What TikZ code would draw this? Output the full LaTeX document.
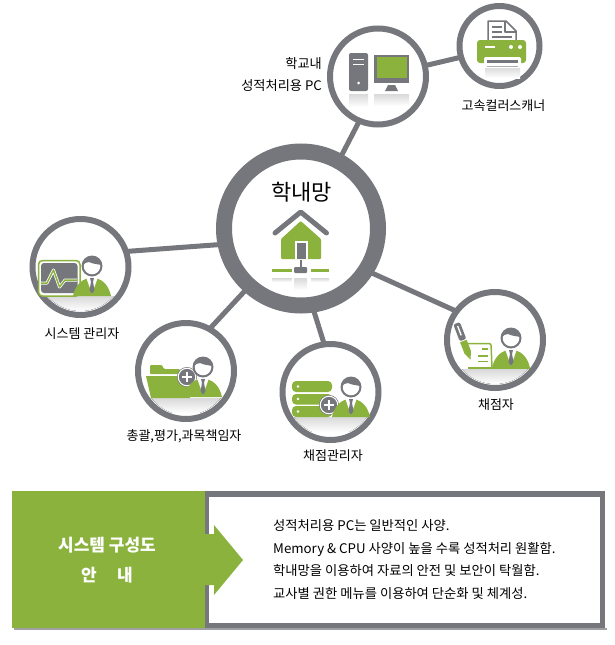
\documentclass[tikz,border=0pt]{standalone}
\usepackage{fontspec}
\setmainfont{Noto Sans CJK KR}
\definecolor{ringgray}{HTML}{76777C}
\definecolor{leafgreen}{HTML}{8BB23D}
\tikzset{
  ringnode/.style={circle, draw=ringgray, line width=6pt, minimum size=#1, inner sep=0pt},
  spoke/.style={draw=ringgray, line width=5pt, shorten <=-1pt, shorten >=-1pt},
  caption/.style={font=\fontsize{13}{15}\selectfont, inner sep=0pt},
  mirror/.style={top color=gray!30, bottom color=white, draw=none},
  personicon/.pic={
    \fill[leafgreen] (-19,30) .. controls (-17,20) and (-11,14) .. (-4,12) -- (4,12) .. controls (11,14) and (17,20) .. (19,30) -- cycle;
    \fill[white] (-6,11) -- (0,28) -- (6,11) -- cycle;
    \fill[ringgray] (-2,12) -- (2,12) -- (1,16) -- (2.5,24) -- (0,28) -- (-2.5,24) -- (-1,16) -- cycle;
    \fill[ringgray] (0,0) circle (10.5);
    \fill[white] (0,0) circle (8.3);
    \fill[ringgray] (-9,1) .. controls (-8,-3) and (-6,-4) .. (-3,-4) .. controls (1,-2) and (5,-2) .. (9,-1) .. controls (8,-12) and (-8,-12) .. (-9,1) -- cycle;
  },
  plusicon/.pic={
    \fill[ringgray] (0,0) circle (10);
    \draw[white, line width=1pt] (0,0) circle (8.8);
    \draw[white, line width=2pt] (-5,0) -- (5,0) (0,-5) -- (0,5);
  },
}
\newcommand{\floorband}[3]{
    \begin{scope}
        \clip (#1,#2) circle (44);
        \fill[mirror] (#1-46,#3) rectangle (#1+46,#3+15);
    \end{scope}
}

\begin{document}
\begin{tikzpicture}[x=1pt, y=-1pt]
    \useasboundingbox (0,0) rectangle (614,645);
    \node[ringnode=154pt, line width=16pt] (hub) at (301,228.5) {};
    \node[ringnode=96pt] (pcnode) at (378,76.5) {};
    \node[ringnode=80pt] (scanner) at (499.5,46) {};
    \node[ringnode=96pt] (sysadmin) at (80.5,267) {};
    \node[ringnode=96pt] (chief) at (186,371) {};
    \node[ringnode=96pt] (manager) at (330.5,392) {};
    \node[ringnode=96pt] (marker) at (495,340) {};

    \draw[spoke] (hub.61) -- (pcnode.247);
    \draw[spoke] (pcnode.13) -- (scanner.196);
    \draw[spoke] (hub.191) -- (sysadmin.18);
    \draw[spoke] (hub.228) -- (chief.60);
    \draw[spoke] (hub.279) -- (manager.98);
    \draw[spoke] (hub.328) -- (marker.144);

    \node[font=\fontsize{22}{26}\selectfont, inner sep=0pt] (hubtext) at (301.5,192) {학내망};
    \node[caption, align=right, anchor=east, font=\fontsize{13.2}{22}\selectfont] (pctext) at (322,75) {학교내\\성적처리용 PC};
    \node[caption] (scannertext) at (503.5,106) {고속컬러스캐너};
    \node[caption] (sysadmintext) at (82,334) {시스템 관리자};
    \node[caption] (chieftext) at (184,436) {총괄,평가,과목책임자};
    \node[caption] (managertext) at (333,456) {채점관리자};
    \node[caption] (markertext) at (496,405) {채점자};

    % hub
    \fill[mirror] (272,278) rectangle (292,282);
    \fill[mirror] (311,278) rectangle (329,282);
    \fill[mirror] (294,278) rectangle (307,290);
    \draw[ringgray, line width=5pt, line cap=round, line join=round] (275,233) -- (300.7,212) -- (326.5,233);
    \fill[leafgreen, rounded corners=1pt] (300.7,221) -- (321,239) -- (321,259) -- (281,259) -- (281,239) -- cycle;
    \fill[white] (295,241) rectangle (307.5,259);
    \fill[ringgray] (296.5,243) rectangle (306,259);
    \fill[ringgray] (299.5,260) rectangle (302,268);
    \fill[ringgray, rounded corners=1pt] (294,267) rectangle (307,273);
    \fill[leafgreen] (272,269) rectangle (292,272);
    \fill[leafgreen] (311,269) rectangle (329,272);

    % pc
    \fill[mirror] (349,94) rectangle (368,107);
    \fill[mirror] (374,94) rectangle (409,106);
    \fill[ringgray, rounded corners=2pt] (349,53) rectangle (368,91);
    \draw[white, line width=1pt] (353,59) -- (364,59) (353,64.5) -- (364,64.5);
    \fill[white] (358.7,83) circle (1.5);
    \fill[ringgray] (374,55) rectangle (409,83);
    \fill[leafgreen] (377,57) rectangle (407,78);
    \fill[ringgray] (388,85) -- (395,85) -- (398,91) -- (385,91) -- cycle;

    % scanner
    \fill[mirror] (485,67) rectangle (520,78);
    \draw[ringgray, line width=1.5pt, fill=white, line join=round] (488,40) -- (488,21) -- (506,21) -- (516,31) -- (516,40);
    \draw[ringgray, line width=1.5pt, line join=round] (505,21) -- (505,32) -- (516,32);
    \draw[ringgray, line width=1.5pt] (492,27) -- (502,27) (492,32) -- (502,32) (492,37) -- (512,37);
    \fill[leafgreen, rounded corners=3pt] (477,40) rectangle (526,63);
    \draw[white, line width=1.5pt] (485,47) -- (495,47);
    \fill[white] (511,47) circle (2) (520,47) circle (2);
    \fill[white, rounded corners=2pt] (484,57) rectangle (521,68);
    \fill[ringgray] (487,60) rectangle (518,63);
    \draw[ringgray!60, line width=1pt] (487,66) -- (518,66);

    % system admin
    \floorband{80.5}{267}{296}
    \draw[leafgreen, line width=1.5pt, rounded corners=4pt, fill=white] (38.5,260.5) rectangle (80,296);
    \fill[ringgray, rounded corners=3pt] (41,263) rectangle (77.5,293);
    \draw[white, line width=3pt, line join=round] (41,283) -- (47,283) -- (53.5,270) -- (59.5,287) -- (65,280) -- (77,280);
    \draw[leafgreen, line width=1.5pt, line join=round] (41,283) -- (47,283) -- (53.5,270) -- (59.5,287) -- (65,280) -- (77,280);
    \pic at (92,266) {personicon};

    % chief
    \floorband{186}{371}{398}
    \fill[leafgreen, rounded corners=1pt] (150,365) -- (162,365) -- (164,369) -- (180,369) -- (180,374) -- (150,374) -- cycle;
    \fill[leafgreen] (146,376) -- (186,376) -- (190,398) -- (151,398) -- cycle;
    \pic at (187,377) {plusicon};
    \pic at (203,367) {personicon};

    % manager
    \floorband{330.5}{392}{417}
    \fill[leafgreen, rounded corners=4pt] (292,381) rectangle (332,392);
    \fill[leafgreen, rounded corners=4pt] (292,394) rectangle (332,404.5);
    \fill[leafgreen, rounded corners=4pt] (292,406) rectangle (332,417);
    \fill[white] (298,386.5) circle (1.3) (298,399) circle (1.3) (298,411.5) circle (1.3);
    \pic at (329,405) {plusicon};
    \pic at (351,387) {personicon};

    % marker
    \floorband{495}{340}{369}
    \draw[leafgreen, line width=1.5pt, rounded corners=2pt] (468,343.5) -- (491,343.5) -- (492,367.5);
    \draw[leafgreen, line width=1.5pt] (468,368) -- (530,368);
    \draw[leafgreen, line width=1.5pt] (482,349) -- (488,349) (478,356) -- (488,356) (478,361.5) -- (488,361.5);
    \fill[ringgray, rotate around={21:(458,327)}, rounded corners=2pt] (454.5,323) rectangle (461.5,341);
    \fill[white, rotate around={21:(458,327)}] (457.3,326) rectangle (458.7,336);
    \fill[leafgreen, rotate around={21:(458,327)}] (454.5,342) -- (461.5,342) -- (461.5,354) -- (458,362) -- (454.5,354) -- cycle;
    \pic at (511,338) {personicon};

    % notice panel
    \fill[ringgray!70] (14,628) rectangle (607,630);
    \fill[ringgray] (205,491) rectangle (605,628);
    \fill[white] (209,497) rectangle (600,623);
    \fill[leafgreen] (12,491) rectangle (205,628);
    \fill[leafgreen] (205,534) -- (214,534) -- (214,525) -- (243,560) -- (214,595) -- (214,585) -- (205,585) -- cycle;
    \node[font=\fontsize{17}{30}\selectfont\bfseries, text=white, align=center, inner sep=0pt] (title) at (107,560) {시스템 구성도\\안\hspace{1.2em}내};
    \node[font=\fontsize{13.3}{22.6}\selectfont, align=left, anchor=west, inner sep=0pt] (notes) at (273,559.5) {성적처리용 PC는 일반적인 사양.\\Memory \& CPU 사양이 높을 수록 성적처리 원활함.\\학내망을 이용하여 자료의 안전 및 보안이 탁월함.\\교사별 권한 메뉴를 이용하여 단순화 및 체계성.};
\end{tikzpicture}
\end{document}
